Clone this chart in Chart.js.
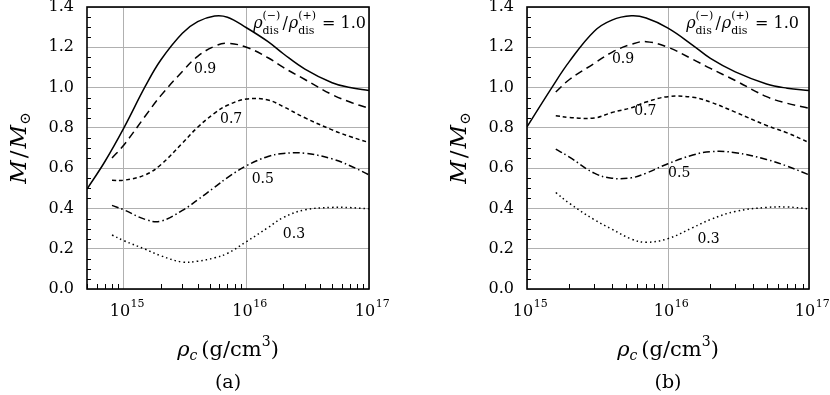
<!DOCTYPE html>
<html>
<head>
<meta charset="utf-8">
<script src="https://cdn.jsdelivr.net/npm/chart.js@4.4.1/dist/chart.umd.min.js"></script>
<style>
  body { margin: 0; background: #fff; }
  #wrap { position: relative; width: 830px; height: 395px; }
  .panel { position: absolute; top: 0; width: 415px; height: 395px; }
</style>
</head>
<body>
<div id="wrap">
  <div class="panel" style="left:0"><canvas id="chartA" width="415" height="395"></canvas></div>
  <div class="panel" style="left:415px"><canvas id="chartB" width="415" height="395"></canvas></div>
</div>
<script>
/*****
 * Data (central density in g/cm^3, mass in solar masses)
 *****/

// panel (a)
const rhoA_10 = [5e14, 7e14, 1e15, 1.5e15, 2e15, 3e15, 4e15, 5.5e15, 7e15, 1e16, 1.5e16, 2e16, 3e16, 5e16, 7e16, 1e17];
const massA_10 = [0.496, 0.633, 0.80, 1.008, 1.137, 1.27, 1.327, 1.355, 1.349, 1.297, 1.228, 1.168, 1.092, 1.024, 1.0, 0.985];
const rhoA = [8e14, 1e15, 1.5e15, 2e15, 3e15, 4e15, 5.5e15, 7e15, 1e16, 1.5e16, 2e16, 3e16, 5e16, 7e16, 1e17];
const massA_09 = [0.65, 0.715, 0.86, 0.96, 1.08, 1.155, 1.205, 1.22, 1.2, 1.148, 1.1, 1.04, 0.965, 0.928, 0.897];
const massA_07 = [0.54, 0.54, 0.567, 0.617, 0.724, 0.803, 0.873, 0.912, 0.943, 0.938, 0.905, 0.85, 0.79, 0.757, 0.727];
const massA_05 = [0.415, 0.393, 0.345, 0.337, 0.39, 0.443, 0.505, 0.553, 0.612, 0.658, 0.673, 0.674, 0.646, 0.612, 0.567];
const massA_03 = [0.268, 0.24, 0.197, 0.165, 0.134, 0.138, 0.155, 0.177, 0.235, 0.305, 0.355, 0.393, 0.405, 0.404, 0.398];

// panel (b)
const rhoB_10 = [1e15, 1.5e15, 2e15, 3e15, 4e15, 5.5e15, 7e15, 1e16, 1.5e16, 2e16, 3e16, 5e16, 7e16, 1e17];
const massB_10 = [0.805, 1.0, 1.13, 1.28, 1.335, 1.356, 1.345, 1.295, 1.21, 1.145, 1.078, 1.018, 0.997, 0.985];
const rhoB = [1.6e15, 2e15, 3e15, 4e15, 5.5e15, 7e15, 1e16, 1.5e16, 2e16, 3e16, 5e16, 7e16, 1e17];
const massB_09 = [0.978, 1.04, 1.12, 1.175, 1.215, 1.228, 1.2, 1.14, 1.095, 1.035, 0.955, 0.922, 0.897];
const massB_07 = [0.86, 0.852, 0.849, 0.876, 0.9, 0.928, 0.955, 0.952, 0.928, 0.878, 0.812, 0.775, 0.727];
const massB_05 = [0.694, 0.655, 0.575, 0.55, 0.552, 0.575, 0.622, 0.665, 0.682, 0.677, 0.643, 0.61, 0.567];
const massB_03 = [0.479, 0.425, 0.344, 0.297, 0.248, 0.232, 0.25, 0.305, 0.345, 0.385, 0.405, 0.407, 0.398];

// ticks
const yTicks = [0, 0.2, 0.4, 0.6, 0.8, 1.0, 1.2, 1.4];
const xTicks = [1e15, 1e16, 1e17];
const xTickExp = ['15', '16', '17'];

// curve labels (ratio rho_dis(-)/rho_dis(+))
const ratioLabels = ['0.9', '0.7', '0.5', '0.3'];

/*****
 * Styling
 *****/
const SERIF = '"DejaVu Serif", serif';
const GRID = '#b0b0b0';
const dashes = {
  '1.0': [],
  '0.9': [8, 5],
  '0.7': [4, 3],
  '0.5': [7, 3, 1.5, 3],
  '0.3': [1.5, 3]
};

function toPoints(xs, ys) {
  return xs.map((x, i) => ({ x: x, y: ys[i] }));
}

function curve(ratio, xs, ys) {
  return {
    label: ratio,
    data: toPoints(xs, ys),
    borderColor: '#000',
    borderWidth: 1.5,
    borderDash: dashes[ratio],
    pointRadius: 0,
    fill: false,
    tension: 0.4
  };
}

// draw a run of text pieces (normal, raised/lowered, or stacked sub+sup)
function drawParts(ctx, parts, x, y, align) {
  const widthOf = (p) => {
    ctx.font = p.font;
    if (p.sub !== undefined) {
      return Math.max(ctx.measureText(p.sub).width, ctx.measureText(p.sup).width) + (p.gap || 0);
    }
    return ctx.measureText(p.t).width + (p.gap || 0);
  };
  let total = 0;
  parts.forEach(p => { total += widthOf(p); });
  let cx = align === 'center' ? x - total / 2 : (align === 'right' ? x - total : x);
  ctx.textAlign = 'left';
  ctx.textBaseline = 'alphabetic';
  parts.forEach(p => {
    const w = widthOf(p);
    ctx.font = p.font;
    if (p.sub !== undefined) {
      ctx.fillText(p.sub, cx, y + p.subDy);
      ctx.fillText(p.sup, cx, y + p.supDy);
    } else {
      ctx.fillText(p.t, cx + (p.pre || 0), y + (p.dy || 0));
    }
    cx += w;
  });
}

// frame, inward minor ticks, decade labels, titles and curve labels
const decorPlugin = {
  id: 'decor',
  afterDraw(chart, args, opts) {
    const ctx = chart.ctx;
    const area = chart.chartArea;
    const xs = chart.scales.x;
    const ys = chart.scales.y;
    ctx.save();
    ctx.fillStyle = '#000';
    ctx.strokeStyle = '#000';

    // minor ticks on the left edge
    ctx.lineWidth = 1;
    ctx.beginPath();
    for (let k = 0; k <= 28; k++) {
      if (k % 4 === 0) continue;
      const py = Math.round(ys.getPixelForValue(k * 0.05)) + 0.5;
      ctx.moveTo(area.left, py);
      ctx.lineTo(area.left + 4, py);
    }
    // minor ticks on the bottom edge
    for (let e = 14; e <= 16; e++) {
      for (let m = 2; m <= 9; m++) {
        const v = m * Math.pow(10, e);
        if (v < xs.min || v > xs.max) continue;
        const px = Math.round(xs.getPixelForValue(v)) + 0.5;
        ctx.moveTo(px, area.bottom);
        ctx.lineTo(px, area.bottom - 5);
      }
    }
    ctx.stroke();

    // frame
    ctx.lineWidth = 1.6;
    ctx.strokeRect(area.left, area.top, area.right - area.left, area.bottom - area.top);

    // decade labels 10^n
    xTicks.forEach((v, i) => {
      const px = xs.getPixelForValue(v) + 3;
      drawParts(ctx, [
        { t: '10', font: '16px ' + SERIF },
        { t: xTickExp[i], font: '11px ' + SERIF, dy: -9, pre: 0.5 }
      ], px, area.bottom + 27, 'center');
    });

    // x title
    const midX = (area.left + area.right) / 2;
    drawParts(ctx, [
      { t: 'ρ', font: 'italic 21px ' + SERIF },
      { t: 'c', font: 'italic 14px ' + SERIF, dy: 4, gap: 4 },
      { t: '(g/cm', font: '21px ' + SERIF },
      { t: '3', font: '14px ' + SERIF, dy: -10 },
      { t: ')', font: '21px ' + SERIF }
    ], midX, area.bottom + 67, 'center');

    // panel tag
    drawParts(ctx, [{ t: opts.tag, font: '19px ' + SERIF }], midX, area.bottom + 99, 'center');

    // y title, rotated
    ctx.save();
    ctx.translate(area.left - 69, (area.top + area.bottom) / 2);
    ctx.rotate(-Math.PI / 2);
    drawParts(ctx, [
      { t: 'M', font: 'italic 23px ' + SERIF, gap: 2 },
      { t: '/', font: '23px ' + SERIF, gap: 2 },
      { t: 'M', font: 'italic 23px ' + SERIF },
      { t: '⊙', font: '15px ' + SERIF, dy: 4 }
    ], 0, 8, 'center');
    ctx.restore();

    // ratio label for the solid curve
    const ann = opts.head;
    const rho = { t: 'ρ', font: 'italic 16px ' + SERIF };
    drawParts(ctx, [
      rho,
      { sub: 'dis', sup: '(−)', font: '11px ' + SERIF, subDy: 6, supDy: -9, gap: 1 },
      { t: '/', font: '16px ' + SERIF, gap: 2, pre: 1 },
      rho,
      { sub: 'dis', sup: '(+)', font: '11px ' + SERIF, subDy: 6, supDy: -9, gap: 1 },
      { t: ' = 1.0', font: '16px ' + SERIF }
    ], area.right - ann.inset, area.top + ann.down, 'right');

    // the other curve labels, anchored in data coordinates
    ctx.font = '14px ' + SERIF;
    ctx.textAlign = 'center';
    ctx.textBaseline = 'middle';
    opts.spots.forEach((s, i) => {
      ctx.fillText(ratioLabels[i], xs.getPixelForValue(s[0]), ys.getPixelForValue(s[1]));
    });
    ctx.restore();
  }
};

function makeChart(id, cfg) {
  return new Chart(document.getElementById(id), {
    type: 'line',
    data: { datasets: cfg.datasets },
    options: {
      responsive: false,
      animation: false,
      devicePixelRatio: 1,
      layout: { padding: { left: 0, right: cfg.padRight, top: 7, bottom: 0 } },
      plugins: {
        legend: { display: false },
        tooltip: { enabled: false },
        decor: { tag: cfg.tag, head: cfg.head, spots: cfg.spots }
      },
      scales: {
        x: {
          type: 'logarithmic',
          min: cfg.xmin,
          max: 1e17,
          afterBuildTicks: s => { s.ticks = xTicks.map(v => ({ value: v })); },
          afterFit: s => { s.height = 106; s.paddingLeft = 0; s.paddingRight = 0; },
          ticks: { display: false },
          grid: { color: GRID, lineWidth: 1, drawTicks: false },
          border: { display: false }
        },
        y: {
          min: 0,
          max: 1.4,
          afterBuildTicks: s => { s.ticks = yTicks.map(v => ({ value: v })); },
          afterFit: s => { s.width = cfg.plotLeft; s.paddingTop = 0; s.paddingBottom = 0; },
          ticks: {
            autoSkip: false,
            color: '#000',
            padding: 13,
            font: { family: SERIF, size: 16 },
            callback: v => Number(v).toFixed(1)
          },
          grid: { color: GRID, lineWidth: 1, drawTicks: false },
          border: { display: false }
        }
      }
    },
    plugins: [decorPlugin]
  });
}

makeChart('chartA', {
  tag: '(a)',
  xmin: 5e14,
  plotLeft: 87,
  padRight: 46,
  head: { inset: 3, down: 21 },
  spots: [[4.6e15, 1.088], [7.5e15, 0.841], [1.36e16, 0.543], [2.44e16, 0.270]],
  datasets: [
    curve('1.0', rhoA_10, massA_10),
    curve('0.9', rhoA, massA_09),
    curve('0.7', rhoA, massA_07),
    curve('0.5', rhoA, massA_05),
    curve('0.3', rhoA, massA_03)
  ]
});

makeChart('chartB', {
  tag: '(b)',
  xmin: 1e15,
  plotLeft: 112,
  padRight: 21,
  head: { inset: 10, down: 21 },
  spots: [[4.8e15, 1.138], [6.9e15, 0.884], [1.2e16, 0.572], [1.94e16, 0.245]],
  datasets: [
    curve('1.0', rhoB_10, massB_10),
    curve('0.9', rhoB, massB_09),
    curve('0.7', rhoB, massB_07),
    curve('0.5', rhoB, massB_05),
    curve('0.3', rhoB, massB_03)
  ]
});
</script>
</body>
</html>
